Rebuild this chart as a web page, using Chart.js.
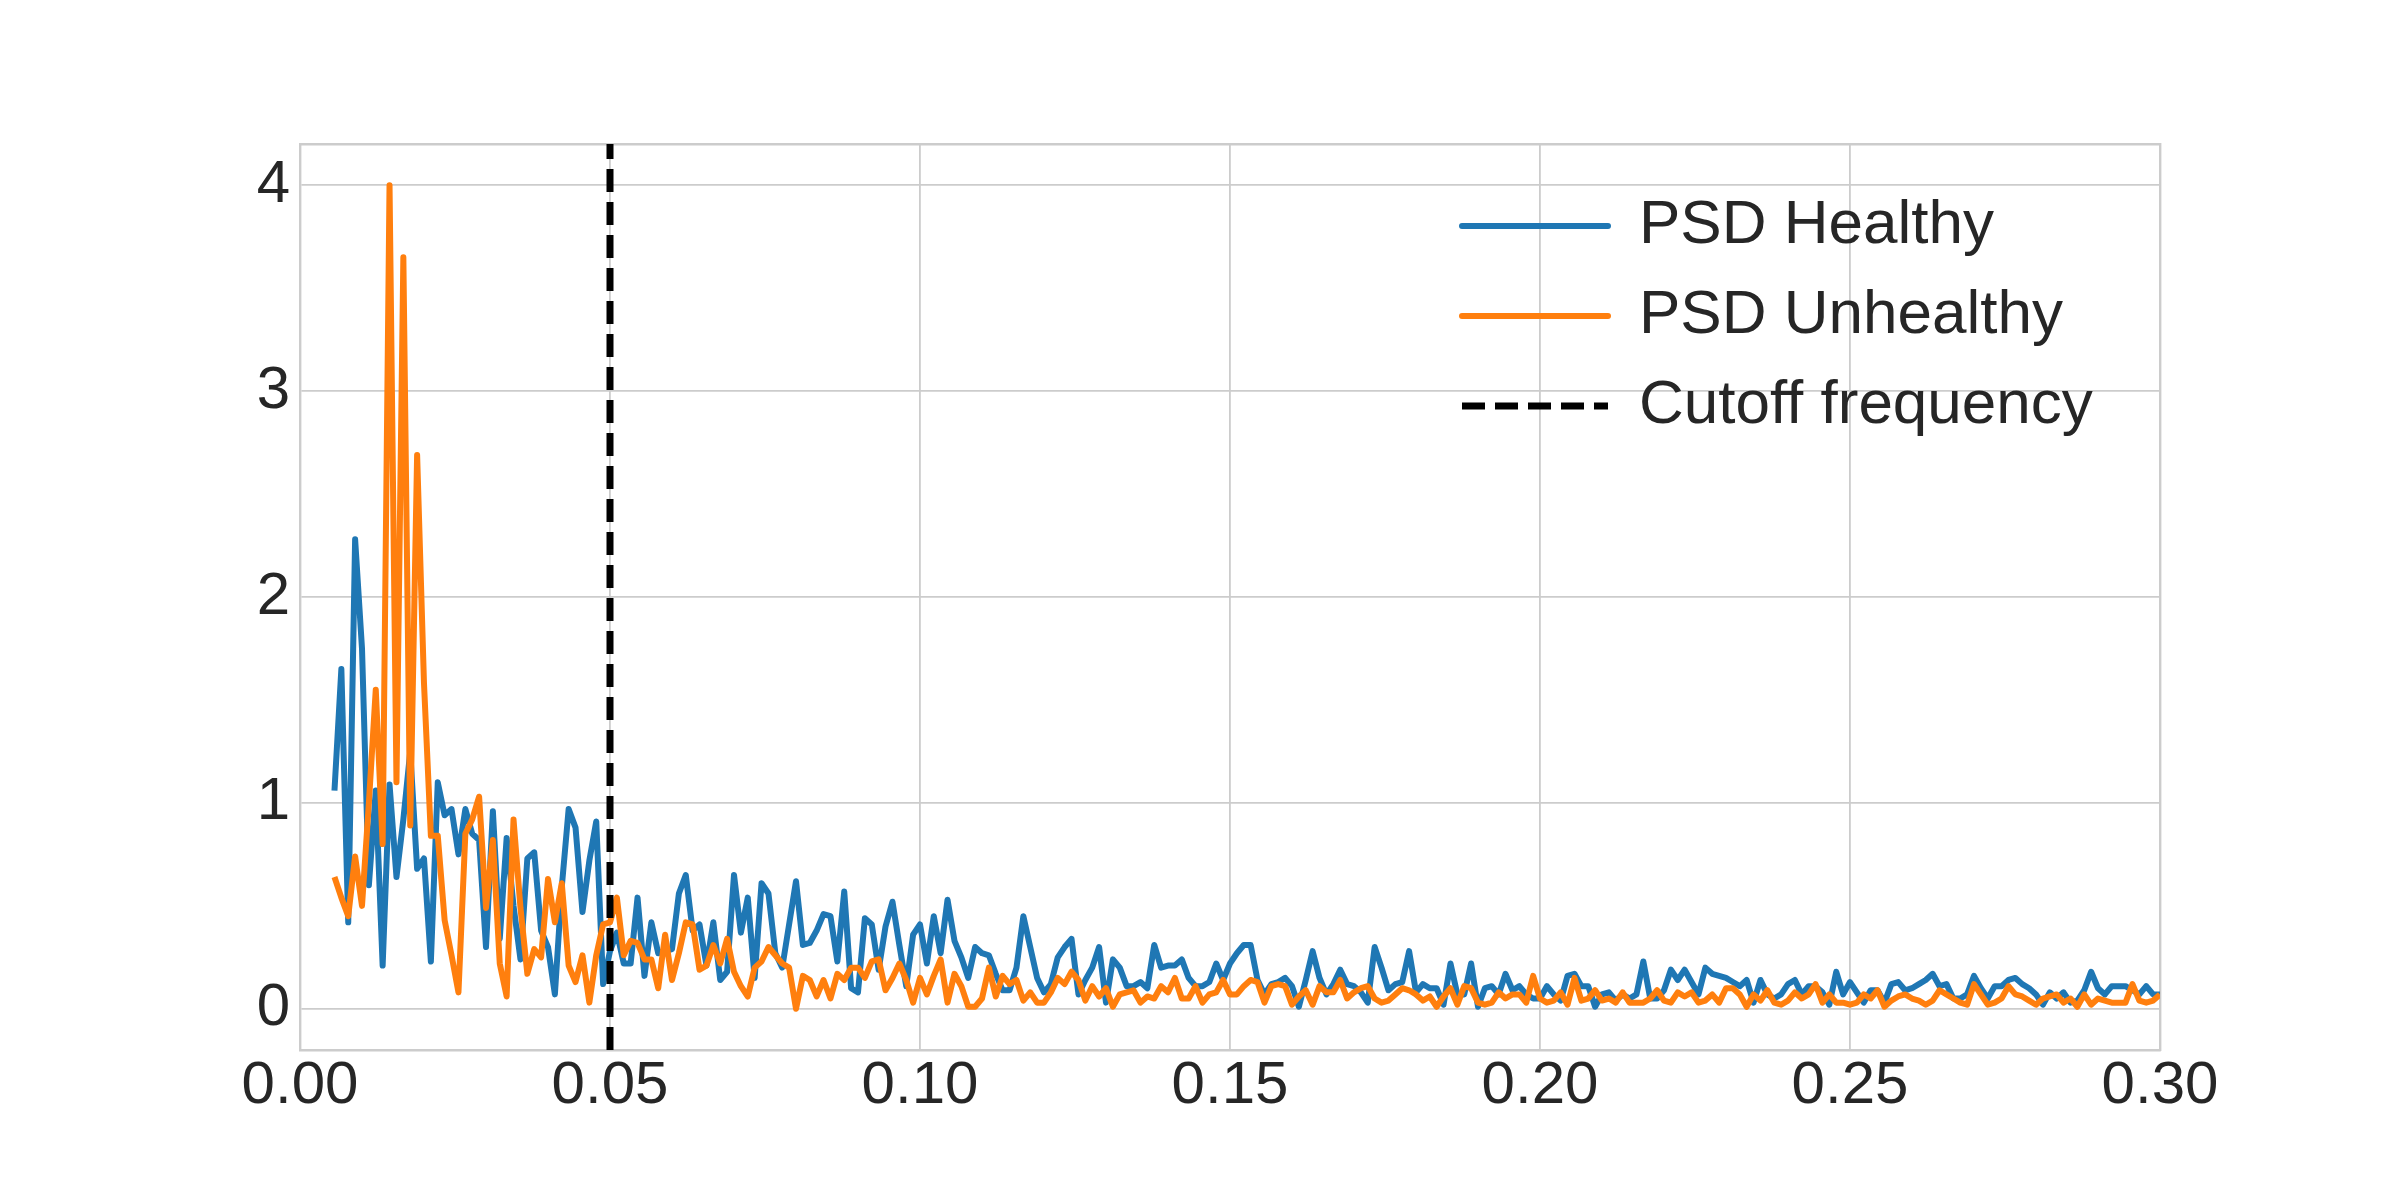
<!DOCTYPE html>
<html>
<head>
<meta charset="utf-8">
<title>PSD Healthy vs Unhealthy</title>
<script src="https://cdn.jsdelivr.net/npm/chart.js@4.4.1/dist/chart.umd.min.js"></script>
<style>
    html, body { margin: 0; padding: 0; background: #ffffff; }
    canvas { display: block; }
</style>
</head>
<body>
<canvas id="psdChart" width="2400" height="1200"></canvas>
<script>
// frequency bins (one row per 0.01)
const freqs = [
    0.00556, 0.00667, 0.00778, 0.00889,
    0.01, 0.01111, 0.01222, 0.01333, 0.01444, 0.01556, 0.01667, 0.01778, 0.01889,
    0.02, 0.02111, 0.02222, 0.02333, 0.02444, 0.02556, 0.02667, 0.02778, 0.02889,
    0.03, 0.03111, 0.03222, 0.03333, 0.03444, 0.03556, 0.03667, 0.03778, 0.03889,
    0.04, 0.04111, 0.04222, 0.04333, 0.04444, 0.04556, 0.04667, 0.04778, 0.04889,
    0.05, 0.05111, 0.05222, 0.05333, 0.05444, 0.05556, 0.05667, 0.05778, 0.05889,
    0.06, 0.06111, 0.06222, 0.06333, 0.06444, 0.06556, 0.06667, 0.06778, 0.06889,
    0.07, 0.07111, 0.07222, 0.07333, 0.07444, 0.07556, 0.07667, 0.07778, 0.07889,
    0.08, 0.08111, 0.08222, 0.08333, 0.08444, 0.08556, 0.08667, 0.08778, 0.08889,
    0.09, 0.09111, 0.09222, 0.09333, 0.09444, 0.09556, 0.09667, 0.09778, 0.09889,
    0.10, 0.10111, 0.10222, 0.10333, 0.10444, 0.10556, 0.10667, 0.10778, 0.10889,
    0.11, 0.11111, 0.11222, 0.11333, 0.11444, 0.11556, 0.11667, 0.11778, 0.11889,
    0.12, 0.12111, 0.12222, 0.12333, 0.12444, 0.12556, 0.12667, 0.12778, 0.12889,
    0.13, 0.13111, 0.13222, 0.13333, 0.13444, 0.13556, 0.13667, 0.13778, 0.13889,
    0.14, 0.14111, 0.14222, 0.14333, 0.14444, 0.14556, 0.14667, 0.14778, 0.14889,
    0.15, 0.15111, 0.15222, 0.15333, 0.15444, 0.15556, 0.15667, 0.15778, 0.15889,
    0.16, 0.16111, 0.16222, 0.16333, 0.16444, 0.16556, 0.16667, 0.16778, 0.16889,
    0.17, 0.17111, 0.17222, 0.17333, 0.17444, 0.17556, 0.17667, 0.17778, 0.17889,
    0.18, 0.18111, 0.18222, 0.18333, 0.18444, 0.18556, 0.18667, 0.18778, 0.18889,
    0.19, 0.19111, 0.19222, 0.19333, 0.19444, 0.19556, 0.19667, 0.19778, 0.19889,
    0.20, 0.20111, 0.20222, 0.20333, 0.20444, 0.20556, 0.20667, 0.20778, 0.20889,
    0.21, 0.21111, 0.21222, 0.21333, 0.21444, 0.21556, 0.21667, 0.21778, 0.21889,
    0.22, 0.22111, 0.22222, 0.22333, 0.22444, 0.22556, 0.22667, 0.22778, 0.22889,
    0.23, 0.23111, 0.23222, 0.23333, 0.23444, 0.23556, 0.23667, 0.23778, 0.23889,
    0.24, 0.24111, 0.24222, 0.24333, 0.24444, 0.24556, 0.24667, 0.24778, 0.24889,
    0.25, 0.25111, 0.25222, 0.25333, 0.25444, 0.25556, 0.25667, 0.25778, 0.25889,
    0.26, 0.26111, 0.26222, 0.26333, 0.26444, 0.26556, 0.26667, 0.26778, 0.26889,
    0.27, 0.27111, 0.27222, 0.27333, 0.27444, 0.27556, 0.27667, 0.27778, 0.27889,
    0.28, 0.28111, 0.28222, 0.28333, 0.28444, 0.28556, 0.28667, 0.28778, 0.28889,
    0.29, 0.29111, 0.29222, 0.29333, 0.29444, 0.29556, 0.29667, 0.29778, 0.29889,
    0.30
];

const psdHealthy = [
    1.06, 1.65, 0.42, 2.28,
    1.75, 0.60, 1.06, 0.21, 1.09, 0.64, 0.92, 1.25, 0.68,
    0.73, 0.23, 1.10, 0.94, 0.97, 0.75, 0.97, 0.85, 0.82,
    0.30, 0.96, 0.34, 0.83, 0.50, 0.24, 0.73, 0.76, 0.38,
    0.30, 0.07, 0.59, 0.97, 0.88, 0.47, 0.72, 0.91, 0.12,
    0.28, 0.37, 0.22, 0.22, 0.54, 0.16, 0.42, 0.27, 0.28,
    0.29, 0.56, 0.65, 0.38, 0.41, 0.21, 0.42, 0.14, 0.18,
    0.65, 0.37, 0.54, 0.15, 0.61, 0.56, 0.27, 0.20, 0.41,
    0.62, 0.31, 0.32, 0.38, 0.46, 0.45, 0.23, 0.57, 0.10,
    0.08, 0.44, 0.41, 0.19, 0.40, 0.52, 0.31, 0.11, 0.36,
    0.41, 0.22, 0.45, 0.27, 0.53, 0.33, 0.25, 0.15, 0.30,
    0.27, 0.26, 0.17, 0.09, 0.09, 0.20, 0.45, 0.30, 0.15,
    0.08, 0.12, 0.25, 0.30, 0.34, 0.07, 0.14, 0.20, 0.30,
    0.03, 0.24, 0.20, 0.11, 0.11, 0.13, 0.10, 0.31, 0.20,
    0.21, 0.21, 0.24, 0.15, 0.11, 0.11, 0.13, 0.22, 0.14,
    0.22, 0.27, 0.31, 0.31, 0.14, 0.07, 0.12, 0.13, 0.15,
    0.11, 0.01, 0.14, 0.28, 0.15, 0.07, 0.12, 0.19, 0.12,
    0.11, 0.08, 0.03, 0.30, 0.20, 0.09, 0.12, 0.13, 0.28,
    0.08, 0.12, 0.10, 0.10, 0.02, 0.22, 0.07, 0.07, 0.22,
    0.01, 0.10, 0.11, 0.07, 0.17, 0.09, 0.11, 0.07, 0.05,
    0.05, 0.11, 0.07, 0.04, 0.16, 0.17, 0.11, 0.11, 0.01,
    0.07, 0.08, 0.04, 0.07, 0.05, 0.07, 0.23, 0.05, 0.05,
    0.09, 0.19, 0.14, 0.19, 0.13, 0.07, 0.20, 0.17, 0.16,
    0.15, 0.13, 0.11, 0.14, 0.03, 0.14, 0.07, 0.05, 0.07,
    0.12, 0.14, 0.07, 0.11, 0.11, 0.08, 0.02, 0.18, 0.07,
    0.13, 0.08, 0.03, 0.09, 0.09, 0.03, 0.12, 0.13, 0.09,
    0.10, 0.12, 0.14, 0.17, 0.11, 0.12, 0.05, 0.05, 0.07,
    0.16, 0.10, 0.05, 0.11, 0.11, 0.14, 0.15, 0.12, 0.10,
    0.07, 0.02, 0.08, 0.05, 0.08, 0.03, 0.04, 0.09, 0.18,
    0.10, 0.07, 0.11, 0.11, 0.11, 0.09, 0.07, 0.11, 0.07,
    0.07
];

const psdUnhealthy = [
    0.64, 0.54, 0.45, 0.74,
    0.50, 1.00, 1.55, 0.80, 4.00, 1.10, 3.65, 0.89, 2.69,
    1.58, 0.84, 0.84, 0.43, 0.26, 0.08, 0.85, 0.92, 1.03,
    0.49, 0.82, 0.22, 0.06, 0.92, 0.49, 0.17, 0.29, 0.25,
    0.63, 0.42, 0.61, 0.21, 0.13, 0.26, 0.03, 0.26, 0.41,
    0.42, 0.54, 0.26, 0.33, 0.32, 0.24, 0.24, 0.10, 0.36,
    0.14, 0.27, 0.42, 0.41, 0.19, 0.21, 0.31, 0.22, 0.34,
    0.18, 0.11, 0.06, 0.20, 0.23, 0.30, 0.26, 0.22, 0.20,
    0.00, 0.16, 0.14, 0.06, 0.14, 0.05, 0.17, 0.14, 0.20,
    0.20, 0.15, 0.23, 0.24, 0.09, 0.15, 0.22, 0.14, 0.03,
    0.15, 0.07, 0.16, 0.24, 0.03, 0.17, 0.11, 0.01, 0.01,
    0.05, 0.20, 0.06, 0.16, 0.12, 0.14, 0.04, 0.08, 0.03,
    0.03, 0.08, 0.15, 0.12, 0.18, 0.14, 0.04, 0.11, 0.06,
    0.10, 0.01, 0.07, 0.08, 0.09, 0.03, 0.06, 0.05, 0.11,
    0.08, 0.15, 0.05, 0.05, 0.11, 0.03, 0.07, 0.08, 0.14,
    0.07, 0.07, 0.11, 0.14, 0.13, 0.03, 0.11, 0.12, 0.11,
    0.02, 0.06, 0.09, 0.02, 0.11, 0.08, 0.08, 0.14, 0.05,
    0.08, 0.10, 0.11, 0.05, 0.03, 0.04, 0.07, 0.10, 0.09,
    0.07, 0.04, 0.06, 0.01, 0.06, 0.10, 0.02, 0.11, 0.10,
    0.03, 0.02, 0.03, 0.08, 0.05, 0.07, 0.07, 0.03, 0.16,
    0.05, 0.03, 0.04, 0.08, 0.02, 0.15, 0.04, 0.05, 0.09,
    0.04, 0.05, 0.03, 0.08, 0.03, 0.03, 0.03, 0.05, 0.09,
    0.04, 0.03, 0.08, 0.06, 0.08, 0.03, 0.04, 0.07, 0.03,
    0.10, 0.10, 0.07, 0.01, 0.07, 0.04, 0.09, 0.03, 0.02,
    0.04, 0.08, 0.05, 0.07, 0.12, 0.03, 0.07, 0.03, 0.03,
    0.02, 0.03, 0.07, 0.05, 0.09, 0.01, 0.04, 0.06, 0.07,
    0.05, 0.04, 0.02, 0.04, 0.09, 0.07, 0.05, 0.03, 0.02,
    0.12, 0.07, 0.02, 0.03, 0.05, 0.11, 0.07, 0.06, 0.04,
    0.02, 0.05, 0.06, 0.07, 0.03, 0.05, 0.01, 0.07, 0.02,
    0.05, 0.04, 0.03, 0.03, 0.03, 0.12, 0.04, 0.03, 0.04,
    0.07
];

const cutoffFreq = 0.05;
const seriesLabels = ['PSD Healthy', 'PSD Unhealthy', 'Cutoff frequency'];
const xTicks = [0, 0.05, 0.10, 0.15, 0.20, 0.25, 0.30];
const yTicks = [0, 1, 2, 3, 4];
const xLimits = [0, 0.30];
const yLimits = [-0.2, 4.2];

const textColor = '#262626';
const gridColor = '#cccccc';
const fontFamily = "'Liberation Sans', Arial, sans-serif";

// put the legend inside the plot, top right (like matplotlib's loc='upper right')
const legendInPlot = {
    id: 'legendInPlot',
    afterLayout(chart) {
        const legend = chart.legend;
        const area = chart.chartArea;
        legend.left = area.right - 726;
        legend.right = area.right;
        legend.top = area.top + 23;
        legend.bottom = area.bottom;
    }
};

// legend handles should look like the lines (width, dash), in dataset order
function legendLabels(chart) {
    const items = Chart.defaults.plugins.legend.labels.generateLabels(chart);
    items.forEach((item) => {
        const ds = chart.data.datasets[item.datasetIndex];
        item.lineWidth = ds.borderWidth;
        item.lineDash = ds.borderDash || [];
        item.lineCap = ds.borderDash ? 'butt' : 'round';
    });
    return items.sort((a, b) => a.datasetIndex - b.datasetIndex);
}

const psdChart = new Chart(document.getElementById('psdChart').getContext('2d'), {
    type: 'line',
    data: {
        labels: freqs,
        datasets: [{
            label: seriesLabels[0],
            data: psdHealthy,
            borderColor: '#1f77b4',
            backgroundColor: '#1f77b4',
            borderWidth: 6,
            pointRadius: 0,
            tension: 0,
            borderJoinStyle: 'round',
            order: 3
        }, {
            label: seriesLabels[1],
            data: psdUnhealthy,
            borderColor: '#ff7f0e',
            backgroundColor: '#ff7f0e',
            borderWidth: 6,
            pointRadius: 0,
            tension: 0,
            borderJoinStyle: 'round',
            order: 2
        }, {
            label: seriesLabels[2],
            data: [{x: cutoffFreq, y: yLimits[0]}, {x: cutoffFreq, y: yLimits[1]}],
            borderColor: '#000000',
            backgroundColor: '#000000',
            borderWidth: 7,
            borderDash: [23, 10],
            pointRadius: 0,
            order: 1
        }]
    },
    options: {
        responsive: false,
        animation: false,
        devicePixelRatio: 1,
        layout: {
            padding: {left: 0, right: 240, top: 144, bottom: 0}
        },
        plugins: {
            tooltip: {enabled: false},
            legend: {
                position: 'chartArea',
                align: 'start',
                labels: {
                    usePointStyle: true,
                    pointStyle: 'line',
                    pointStyleWidth: 146,
                    padding: 28,
                    color: textColor,
                    font: {family: fontFamily, size: 62},
                    generateLabels: legendLabels
                }
            }
        },
        scales: {
            x: {
                type: 'linear',
                position: 'bottom',
                min: xLimits[0],
                max: xLimits[1],
                afterBuildTicks: (scale) => { scale.ticks = xTicks.map(v => ({value: v})); },
                afterFit: (scale) => { scale.height = 150; },
                ticks: {
                    callback: (v) => Number(v).toFixed(2),
                    color: textColor,
                    font: {family: fontFamily, size: 60},
                    padding: 0,
                    maxRotation: 0,
                    autoSkip: false
                },
                grid: {color: gridColor, lineWidth: 1.8, drawTicks: false},
                border: {color: gridColor, width: 2.4}
            },
            y: {
                type: 'linear',
                position: 'left',
                min: yLimits[0],
                max: yLimits[1],
                afterBuildTicks: (scale) => { scale.ticks = yTicks.map(v => ({value: v})); },
                afterFit: (scale) => { scale.width = 300; },
                ticks: {
                    callback: (v) => String(v),
                    color: textColor,
                    font: {family: fontFamily, size: 60},
                    padding: 10
                },
                grid: {color: gridColor, lineWidth: 1.8, drawTicks: false},
                border: {color: gridColor, width: 2.4}
            },
            xTop: {
                type: 'linear',
                position: 'top',
                min: xLimits[0],
                max: xLimits[1],
                afterFit: (scale) => { scale.height = 0; },
                ticks: {display: false},
                grid: {display: false, drawTicks: false},
                border: {color: gridColor, width: 2.4}
            },
            yRight: {
                type: 'linear',
                position: 'right',
                min: yLimits[0],
                max: yLimits[1],
                afterFit: (scale) => { scale.width = 0; },
                ticks: {display: false},
                grid: {display: false, drawTicks: false},
                border: {color: gridColor, width: 2.4}
            }
        }
    },
    plugins: [legendInPlot]
});
</script>
</body>
</html>
